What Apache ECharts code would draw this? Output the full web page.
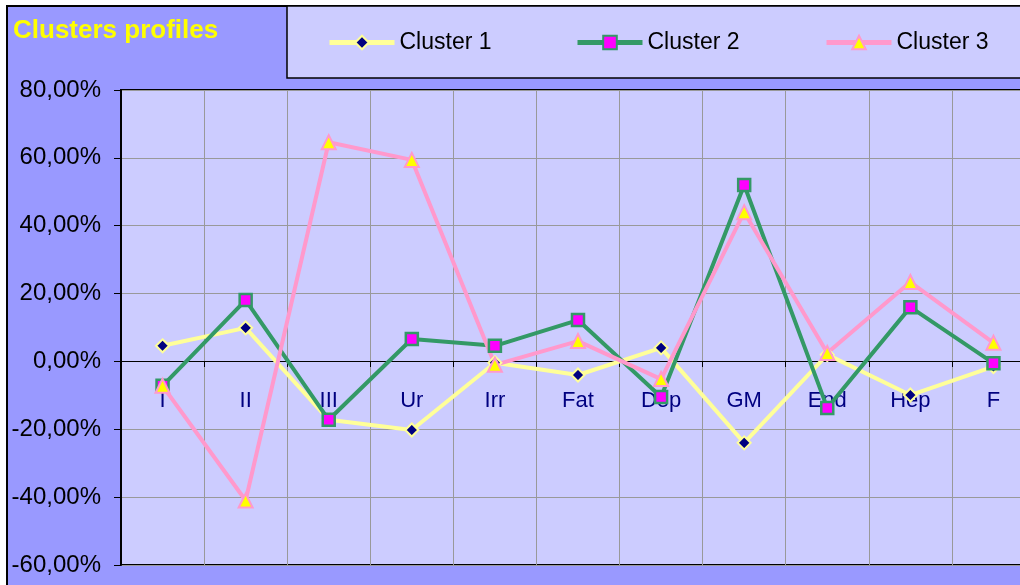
<!DOCTYPE html>
<html>
<head>
<meta charset="utf-8">
<script src="https://cdn.jsdelivr.net/npm/echarts@6/dist/echarts.min.js"></script>
<style>
  html, body { margin: 0; padding: 0; background: #fff; }
  #chart { width: 1020px; height: 585px; }
</style>
</head>
<body>
<div id="chart"></div>
<script>
// categories and cluster profiles (percent)
const categories = ['I', 'II', 'III', 'Ur', 'Irr', 'Fat', 'Dep', 'GM', 'End', 'Hep', 'F'];
const cluster1 = [4.6, 9.9, -17.2, -20.2, -0.4, -4.0, 4.0, -24.0, 2.0, -9.9, -1.5];
const cluster2 = [-7.2, 18.1, -17.2, 6.6, 4.6, 12.2, -10.5, 52.0, -13.7, 16.0, -0.5];
const cluster3 = [-7.2, -41.0, 64.6, 59.4, -1.0, 6.0, -5.2, 44.0, 2.5, 23.4, 5.5];
const seriesNames = ['Cluster 1', 'Cluster 2', 'Cluster 3'];

let chart = echarts.init(document.getElementById('chart'));

function legendAt(name, left) {
    return {
        data: [name],
        left: left,
        top: 31,
        padding: 0,
        itemWidth: 65,
        itemHeight: 17,
        itemGap: 0,
        lineStyle: { width: 5 },
        textStyle: { fontFamily: 'Arial, Liberation Sans', fontSize: 23, color: '#000' }
    };
}

// grid is 475px tall for 140 %, zero line sits 204px above the bottom
const zeroOffset = -204;

let option = {
    backgroundColor: '#fff',
    animation: false,
    graphic: [
        // outer chart area
        { type: 'rect', z: -10, shape: { x: 7, y: 6, width: 1030, height: 600 },
          style: { fill: '#9999ff', stroke: '#000', lineWidth: 2 } },
        // legend box
        { type: 'rect', z: -9, shape: { x: 287, y: 6, width: 750, height: 72 },
          style: { fill: '#ccccff', stroke: '#000', lineWidth: 1.5 } }
    ],
    title: {
        text: 'Clusters profiles',
        left: 8,
        top: 13,
        textStyle: { fontFamily: 'Arial, Liberation Sans', fontSize: 26, fontWeight: 'bold', color: '#ffff00' }
    },
    legend: [
        legendAt(seriesNames[0], 327),
        legendAt(seriesNames[1], 575),
        legendAt(seriesNames[2], 824)
    ],
    grid: {
        left: 121,
        top: 90,
        right: -15,
        bottom: 20,
        outerBoundsMode: 'none',
        containLabel: false,
        show: true,
        backgroundColor: '#ccccff',
        borderColor: '#000',
        borderWidth: 2
    },
    xAxis: [{
        type: 'category',
        data: categories,
        boundaryGap: true,
        axisLine: { show: false },
        axisTick: { show: false },
        axisLabel: { show: false },
        splitLine: { show: true, lineStyle: { color: '#999', width: 1 } }
    }, {
        // labels and ticks along the zero line
        type: 'category',
        data: categories,
        position: 'bottom',
        offset: zeroOffset,
        boundaryGap: true,
        axisLine: { show: true, onZero: false, lineStyle: { color: '#000', width: 1 } },
        axisTick: { show: true, length: 6, lineStyle: { color: '#000' } },
        axisLabel: { fontFamily: 'Arial, Liberation Sans', fontSize: 22, color: '#000080', margin: 29 },
        splitLine: { show: false }
    }],
    yAxis: {
        type: 'value',
        min: -60,
        max: 80,
        interval: 20,
        axisLine: { show: true, lineStyle: { color: '#000', width: 2 } },
        axisTick: { show: true, length: 7, lineStyle: { color: '#000' } },
        axisLabel: {
            fontFamily: 'Arial, Liberation Sans',
            fontSize: 24,
            color: '#000',
            margin: 20,
            formatter: v => v.toFixed(2).replace('.', ',') + '%'
        },
        splitLine: { show: true, lineStyle: { color: '#999', width: 1 } }
    },
    series: [{
        name: seriesNames[0],
        type: 'line',
        data: cluster1,
        symbol: 'diamond',
        symbolSize: 13,
        lineStyle: { color: '#ffff99', width: 4 },
        itemStyle: { color: '#000080', borderColor: '#ffff99', borderWidth: 2 }
    }, {
        name: seriesNames[1],
        type: 'line',
        data: cluster2,
        symbol: 'rect',
        symbolSize: 12,
        lineStyle: { color: '#339966', width: 4 },
        itemStyle: { color: '#ff00ff', borderColor: '#339966', borderWidth: 2.5 }
    }, {
        name: seriesNames[2],
        type: 'line',
        data: cluster3,
        symbol: 'triangle',
        symbolSize: 14,
        lineStyle: { color: '#ff99cc', width: 4 },
        itemStyle: { color: '#ffff00', borderColor: '#ff99cc', borderWidth: 2 }
    }]
};

chart.setOption(option);
</script>
</body>
</html>
